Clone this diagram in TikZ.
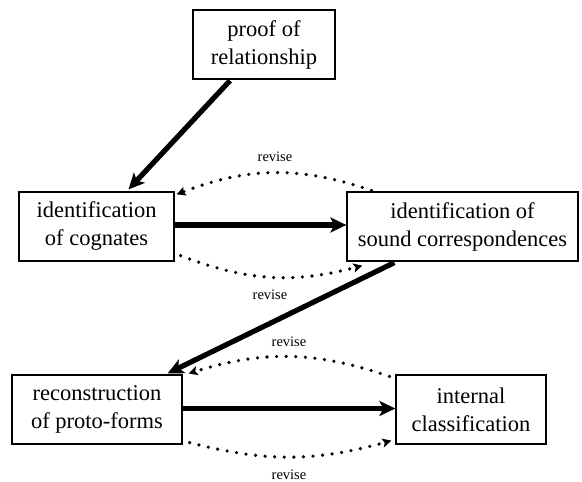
\documentclass[tikz,border=0pt]{standalone}
\usepackage{fontspec}
\setmainfont{Liberation Serif}
\newfontfamily\boxfont{Liberation Serif}
\usetikzlibrary{arrows.meta}
\begin{document}
\begin{tikzpicture}[x=1pt,y=-1pt,
 box/.style={draw,line width=1.2pt,align=center,inner sep=0pt,minimum height=69pt,font=\boxfont\fontsize{22.5}{28}\selectfont},
 mainarrow/.style={line width=5.2pt,-{Stealth[length=16pt,width=15pt,inset=4pt]}},
 rev/.style={line width=3.6pt,dash pattern=on 0pt off 9.6pt,line cap=round,-{Stealth[length=9pt,width=9pt,inset=2pt]}},
 lab/.style={font=\boxfont\fontsize{14.5}{16}\selectfont,inner sep=0pt}]
\useasboundingbox (0,0) rectangle (582,482);
\node[box,minimum width=142pt] (proof) at (264,44.5) {proof of\\relationship};
\node[box,minimum width=155pt] (cog) at (96.5,226.5) {identification\\of cognates};
\node[box,minimum width=231pt] (snd) at (462.5,226.5) {identification of\\sound correspondences};
\node[box,minimum width=170pt] (rec) at (97,409.5) {reconstruction\\of proto-forms};
\node[box,minimum width=150pt] (int) at (471,409.5) {internal\\classification};

\draw[mainarrow] ([shift={(-34,1)}]proof.south) -- ([shift={(32,-2)}]cog.north);
\draw[mainarrow] ([shift={(0,-1.5)}]cog.east) -- ([shift={(0,-1.5)}]snd.west);
\draw[mainarrow] ([shift={(48,1)}]snd.south west) -- ([shift={(-15,-1)}]rec.north east);
\draw[mainarrow] ([shift={(0,-1)}]rec.east) -- ([shift={(0,-1)}]int.west);

\draw[rev] ([shift={(25,-1)}]snd.north west) to[bend right=20] ([shift={(2,3)}]cog.north east);
\draw[rev] ([shift={(6,-6)}]cog.south east) to[bend right=18] ([shift={(16,4)}]snd.south west);
\draw[rev] ([shift={(-6,2)}]int.north west) to[bend right=18] ([shift={(6,-1)}]rec.north east);
\draw[rev] ([shift={(7,-2)}]rec.south east) to[bend right=15] ([shift={(-4,-4)}]int.south west);

\node[lab] (r1) at (275,157) {revise};
\node[lab] (r2) at (270,295) {revise};
\node[lab] (r3) at (289,342) {revise};
\node[lab] (r4) at (289,475) {revise};
\end{tikzpicture}
\end{document}
